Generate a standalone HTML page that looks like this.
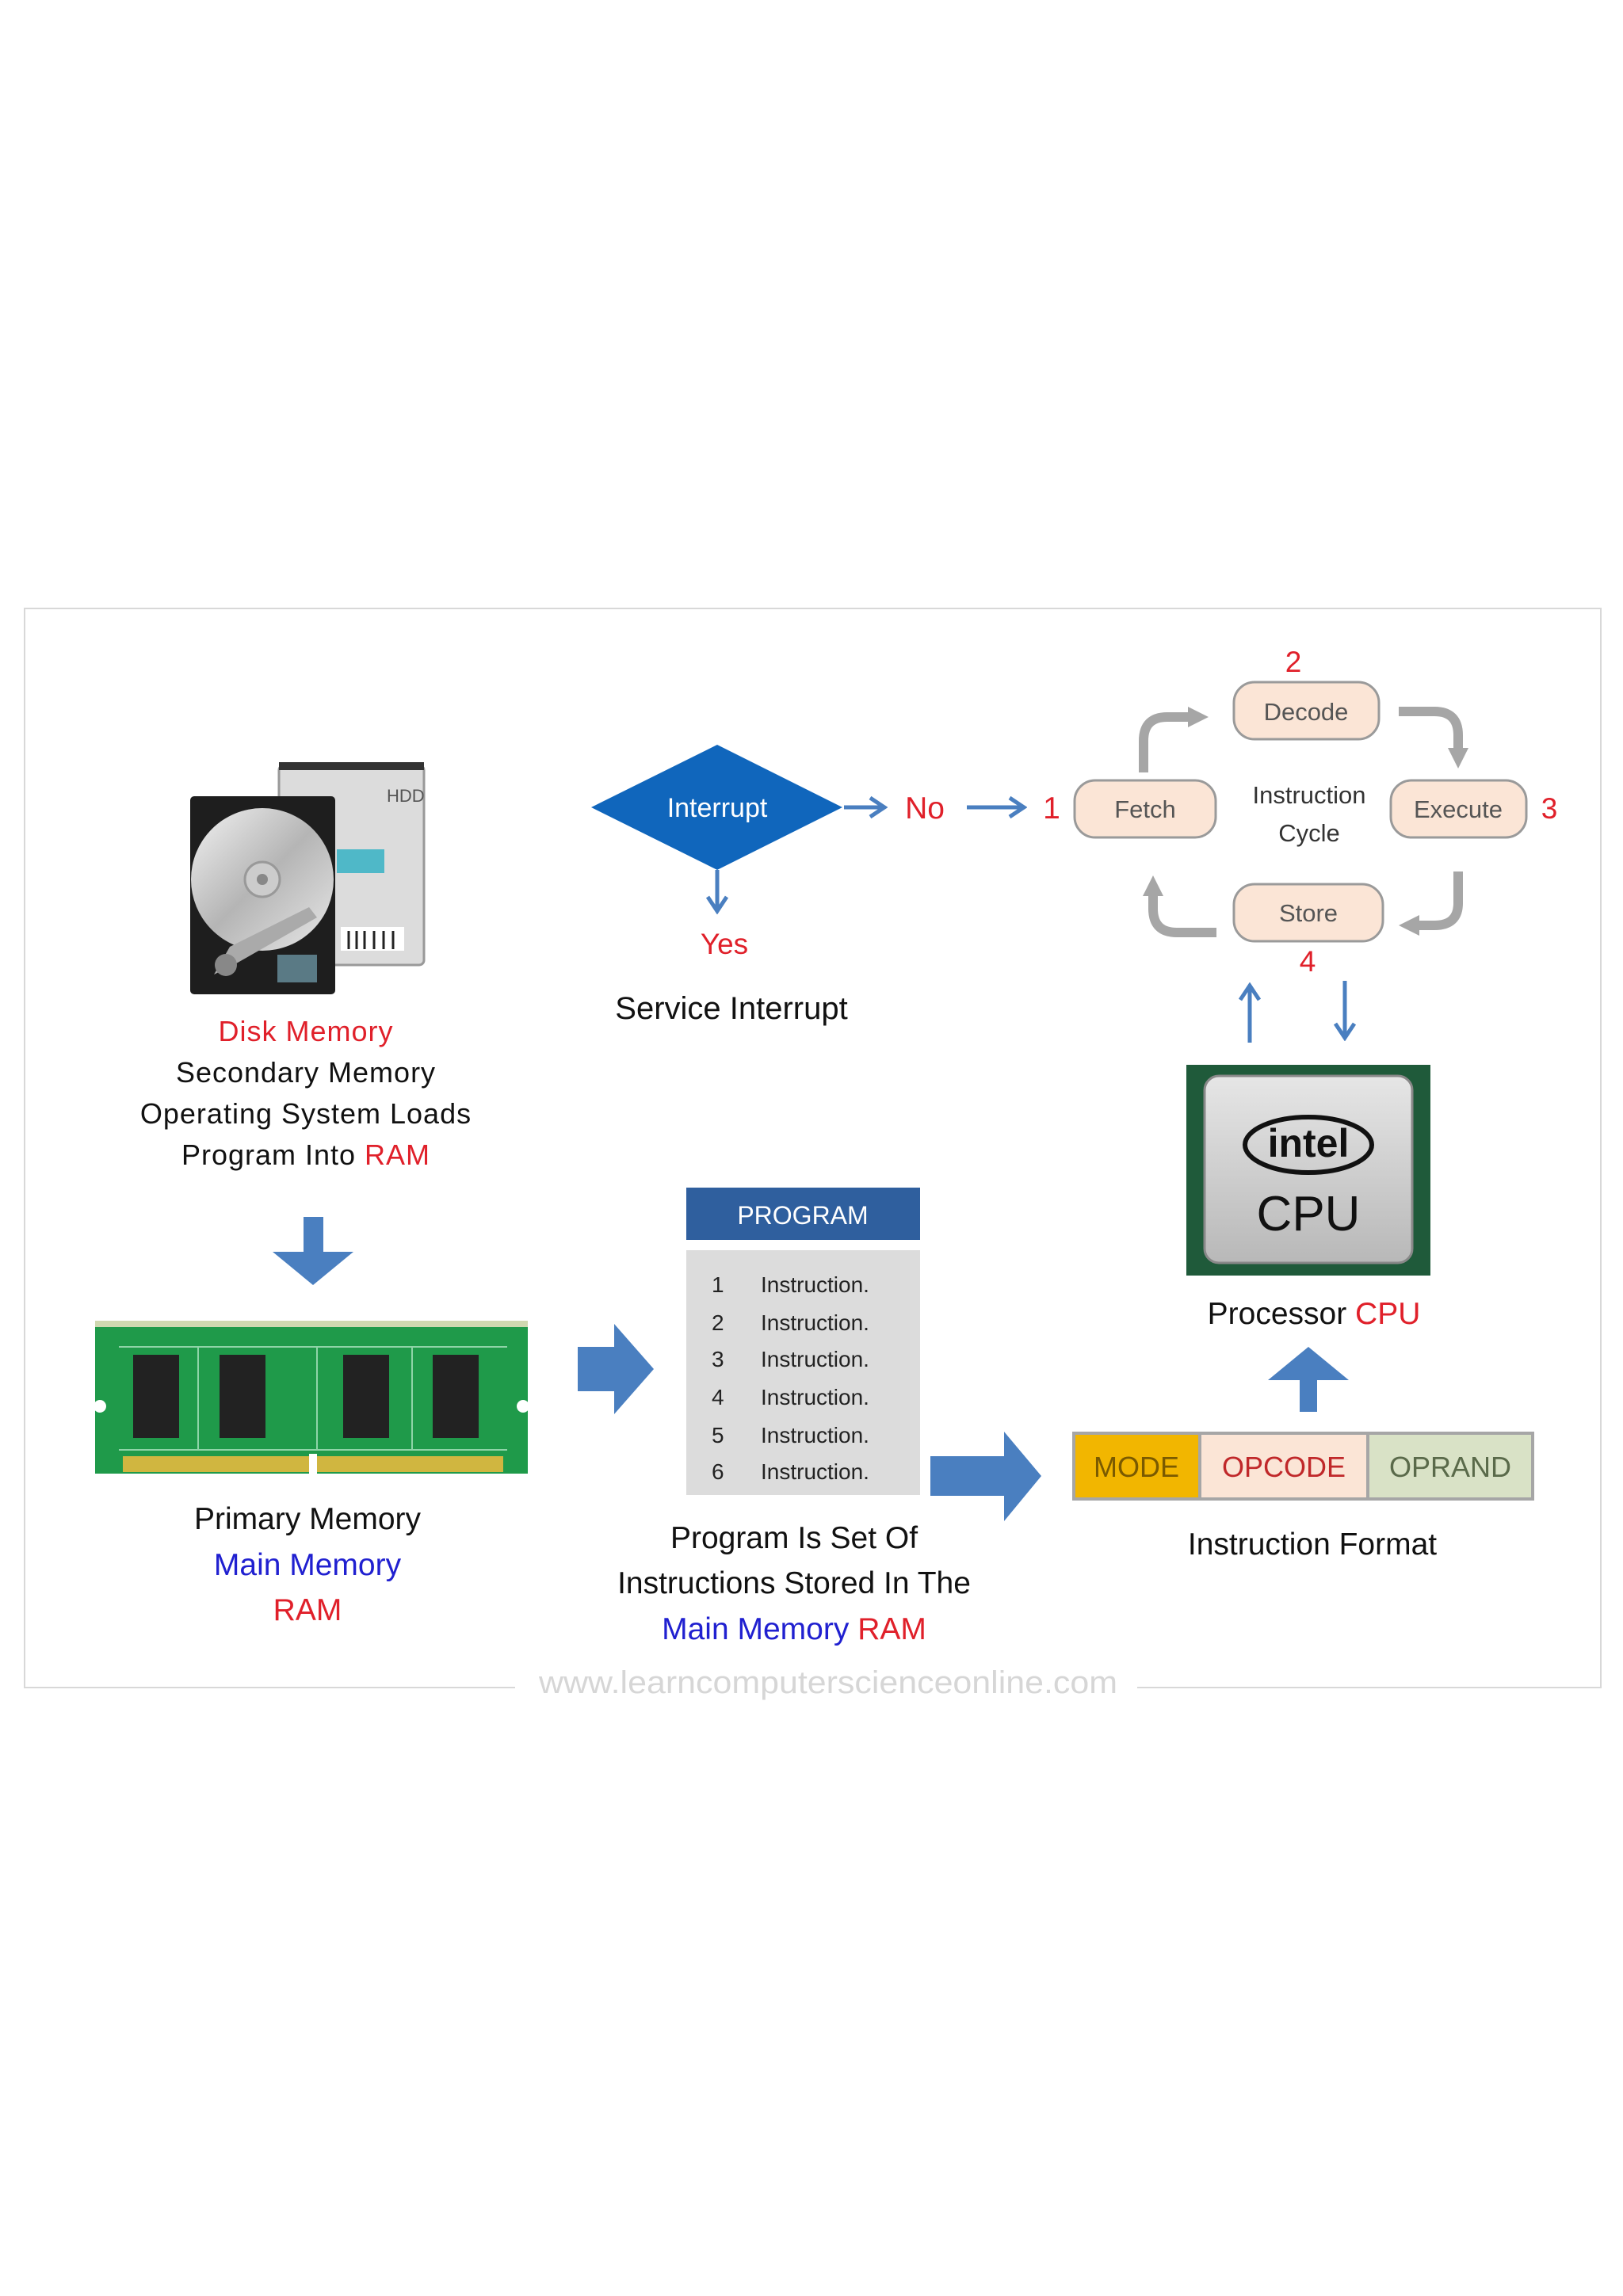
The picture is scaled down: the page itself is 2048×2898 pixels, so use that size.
<!DOCTYPE html>
<html><head><meta charset="utf-8"><style>
html,body{margin:0;padding:0;background:#fff}
svg{display:block}
text{font-family:"Liberation Sans",sans-serif}
</style></head><body>
<svg width="2048" height="2898" viewBox="0 0 2048 2898" xmlns="http://www.w3.org/2000/svg">
<defs>
<marker id="ab" markerWidth="26" markerHeight="30" refX="22" refY="15" orient="auto" markerUnits="userSpaceOnUse" viewBox="0 0 26 30"><path d="M4,3 L22,15 L4,27" fill="none" stroke="#4a7fc0" stroke-width="5"/></marker>
<marker id="ag" markerWidth="26" markerHeight="30" refX="6" refY="15" orient="auto" markerUnits="userSpaceOnUse" viewBox="0 0 26 30"><path d="M0,2 L26,15 L0,28 Z" fill="#a6a6a6"/></marker>
<linearGradient id="disk" x1="0" y1="0" x2="1" y2="1"><stop offset="0" stop-color="#f2f2f2"/><stop offset="0.5" stop-color="#b5b5b5"/><stop offset="1" stop-color="#e8e8e8"/></linearGradient>
<linearGradient id="cpu" x1="0" y1="0" x2="0" y2="1"><stop offset="0" stop-color="#e6e6e6"/><stop offset="1" stop-color="#b8b8b8"/></linearGradient>
</defs>
<path d="M650,2130 L31,2130 L31,768 L2020,768 L2020,2130 L1435,2130" fill="none" stroke="#d8d8d8" stroke-width="2"/>
<text x="1045" y="2137" font-size="40" fill="#d6d6d6" text-anchor="middle" textLength="730" lengthAdjust="spacingAndGlyphs">www.learncomputerscienceonline.com</text>

<rect x="352" y="966" width="183" height="252" rx="6" fill="#dcdcdc" stroke="#999" stroke-width="3"/>
<rect x="352" y="962" width="183" height="10" fill="#333"/>
<text x="488" y="1012" font-size="22" fill="#555">HDD</text>
<rect x="425" y="1072" width="60" height="30" fill="#4fb8c8"/>
<rect x="430" y="1170" width="80" height="30" fill="#fff"/>
<g stroke="#222" stroke-width="3"><line x1="440" y1="1175" x2="440" y2="1198"/><line x1="450" y1="1175" x2="450" y2="1198"/><line x1="460" y1="1175" x2="460" y2="1198"/><line x1="472" y1="1175" x2="472" y2="1198"/><line x1="484" y1="1175" x2="484" y2="1198"/><line x1="496" y1="1175" x2="496" y2="1198"/></g>
<rect x="240" y="1005" width="183" height="250" rx="5" fill="#1e1e1e"/>
<circle cx="331" cy="1110" r="90" fill="url(#disk)"/>
<circle cx="331" cy="1110" r="22" fill="#ccc" stroke="#999" stroke-width="3"/>
<circle cx="331" cy="1110" r="7" fill="#888"/>
<path d="M270,1230 L290,1195 L390,1145 L400,1158 L300,1215 Z" fill="#aaa"/>
<circle cx="285" cy="1218" r="14" fill="#888"/>
<rect x="350" y="1205" width="50" height="35" fill="#5a7a85"/>

<text font-size="36" text-anchor="middle" letter-spacing="1"><tspan x="386" y="1314" fill="#e0202a">Disk Memory</tspan><tspan x="386" y="1366" fill="#111">Secondary  Memory</tspan><tspan x="386" y="1418" fill="#111">Operating System Loads</tspan><tspan x="386" y="1470" fill="#111">Program  Into  <tspan fill="#e0202a">RAM</tspan></tspan></text>

<path d="M383,1536 L408,1536 L408,1580 L446,1580 L395,1622 L344,1580 L383,1580 Z" fill="#4a7fc0"/>

<rect x="120" y="1670" width="546" height="190" fill="#1f9a4a"/>
<rect x="120" y="1667" width="546" height="8" fill="#cfd8b0"/>
<rect x="155" y="1838" width="480" height="20" fill="#d0b640"/>
<rect x="390" y="1835" width="10" height="28" fill="#fff"/>
<circle cx="126" cy="1775" r="8" fill="#fff"/><circle cx="660" cy="1775" r="8" fill="#fff"/>
<g fill="#222"><rect x="168" y="1710" width="58" height="105"/><rect x="277" y="1710" width="58" height="105"/><rect x="433" y="1710" width="58" height="105"/><rect x="546" y="1710" width="58" height="105"/></g>
<g stroke="#8fd4a8" stroke-width="2" fill="none"><path d="M150,1700 L640,1700"/><path d="M150,1830 L640,1830"/><path d="M250,1700 L250,1830"/><path d="M400,1700 L400,1830"/><path d="M520,1700 L520,1830"/></g>
<text font-size="39" text-anchor="middle"><tspan x="388" y="1930" fill="#111">Primary  Memory</tspan><tspan x="388" y="1988" fill="#2020d0">Main Memory</tspan><tspan x="388" y="2045" fill="#e0202a">RAM</tspan></text>

<path d="M729,1700 L775,1700 L775,1671 L825,1728 L775,1785 L775,1756 L729,1756 Z" fill="#4a7fc0"/>

<rect x="866" y="1499" width="295" height="66" fill="#2f5f9e"/>
<text x="1013" y="1545" font-size="32" fill="#fff" text-anchor="middle">PROGRAM</text>
<rect x="866" y="1578" width="295" height="309" fill="#dcdcdc"/>
<g font-size="28" fill="#222">
<text x="898" y="1631">1</text><text x="960" y="1631">Instruction.</text>
<text x="898" y="1679">2</text><text x="960" y="1679">Instruction.</text>
<text x="898" y="1725">3</text><text x="960" y="1725">Instruction.</text>
<text x="898" y="1773">4</text><text x="960" y="1773">Instruction.</text>
<text x="898" y="1821">5</text><text x="960" y="1821">Instruction.</text>
<text x="898" y="1867">6</text><text x="960" y="1867">Instruction.</text>
</g>
<text font-size="39" text-anchor="middle"><tspan x="1002" y="1954" fill="#111">Program  Is Set Of</tspan><tspan x="1002" y="2011" fill="#111">Instructions  Stored  In The</tspan><tspan x="1002" y="2069"><tspan fill="#2020d0">Main Memory</tspan> <tspan fill="#e0202a">RAM</tspan></tspan></text>

<path d="M1174,1838 L1267,1838 L1267,1807 L1314,1863 L1267,1920 L1267,1888 L1174,1888 Z" fill="#4a7fc0"/>

<rect x="1353" y="1807" width="583" height="87" fill="#a6a6a6"/>
<rect x="1357" y="1811" width="155" height="79" fill="#f2b600"/>
<rect x="1516" y="1811" width="208" height="79" fill="#fbe5d6"/>
<rect x="1728" y="1811" width="204" height="79" fill="#d9e2c6"/>
<g font-size="36" text-anchor="middle"><text x="1434" y="1864" fill="#7a5a00">MODE</text><text x="1620" y="1864" fill="#c0282a">OPCODE</text><text x="1830" y="1864" fill="#5a6a4a">OPRAND</text></g>
<text x="1656" y="1962" font-size="39" fill="#111" text-anchor="middle">Instruction Format</text>

<path d="M1640,1782 L1662,1782 L1662,1742 L1702,1742 L1651,1700 L1600,1742 L1640,1742 Z" fill="#4a7fc0"/>

<rect x="1497" y="1344" width="308" height="266" fill="#1f5a3a"/>
<rect x="1520" y="1358" width="262" height="236" rx="18" fill="url(#cpu)" stroke="#888" stroke-width="3"/>
<ellipse cx="1651" cy="1445" rx="80" ry="35" fill="none" stroke="#111" stroke-width="6"/>
<text x="1651" y="1460" font-size="50" font-weight="bold" fill="#111" text-anchor="middle">intel</text>
<text x="1651" y="1553" font-size="62" fill="#111" text-anchor="middle">CPU</text>
<text x="1658" y="1671" font-size="39" text-anchor="middle" fill="#111">Processor  <tspan fill="#e0202a">CPU</tspan></text>

<line x1="1577" y1="1316" x2="1577" y2="1244" stroke="#4a7fc0" stroke-width="5" marker-end="url(#ab)"/>
<line x1="1697" y1="1238" x2="1697" y2="1310" stroke="#4a7fc0" stroke-width="5" marker-end="url(#ab)"/>

<path d="M905,940 L1063,1019 L905,1098 L746,1019 Z" fill="#1066bc"/>
<text x="905" y="1031" font-size="34" fill="#fff" text-anchor="middle">Interrupt</text>
<line x1="905" y1="1098" x2="905" y2="1150" stroke="#4a7fc0" stroke-width="5" marker-end="url(#ab)"/>
<text x="914" y="1204" font-size="37" fill="#e0202a" text-anchor="middle">Yes</text>
<text x="923" y="1286" font-size="40" fill="#111" text-anchor="middle">Service Interrupt</text>
<line x1="1065" y1="1019" x2="1116" y2="1019" stroke="#4a7fc0" stroke-width="5" marker-end="url(#ab)"/>
<text x="1167" y="1033" font-size="39" fill="#e0202a" text-anchor="middle">No</text>
<line x1="1220" y1="1019" x2="1292" y2="1019" stroke="#4a7fc0" stroke-width="5" marker-end="url(#ab)"/>
<text x="1327" y="1033" font-size="39" fill="#e0202a" text-anchor="middle">1</text>

<g fill="none" stroke="#a6a6a6" stroke-width="12">
<path d="M1443,975 L1443,935 Q1443,905 1473,905 L1505,905" marker-end="url(#ag)"/>
<path d="M1765,898 L1810,898 Q1840,898 1840,928 L1840,950" marker-end="url(#ag)"/>
<path d="M1840,1100 L1840,1140 Q1840,1168 1810,1168 L1785,1168" marker-end="url(#ag)"/>
<path d="M1535,1177 L1485,1177 Q1455,1177 1455,1147 L1455,1125" marker-end="url(#ag)"/>
</g>
<g fill="#fbe5d6" stroke="#9a9a9a" stroke-width="3">
<rect x="1356" y="985" width="178" height="72" rx="26"/>
<rect x="1557" y="861" width="183" height="72" rx="26"/>
<rect x="1755" y="985" width="171" height="72" rx="26"/>
<rect x="1557" y="1116" width="188" height="72" rx="26"/>
</g>
<g font-size="31" fill="#555" text-anchor="middle">
<text x="1445" y="1032">Fetch</text><text x="1648" y="909">Decode</text><text x="1840" y="1032">Execute</text><text x="1651" y="1163">Store</text>
</g>
<text font-size="31" fill="#333" text-anchor="middle"><tspan x="1652" y="1014">Instruction</tspan><tspan x="1652" y="1062">Cycle</tspan></text>
<g font-size="37" fill="#e0202a" text-anchor="middle"><text x="1632" y="848">2</text><text x="1955" y="1033">3</text><text x="1650" y="1226">4</text></g>
</svg>
</body></html>
